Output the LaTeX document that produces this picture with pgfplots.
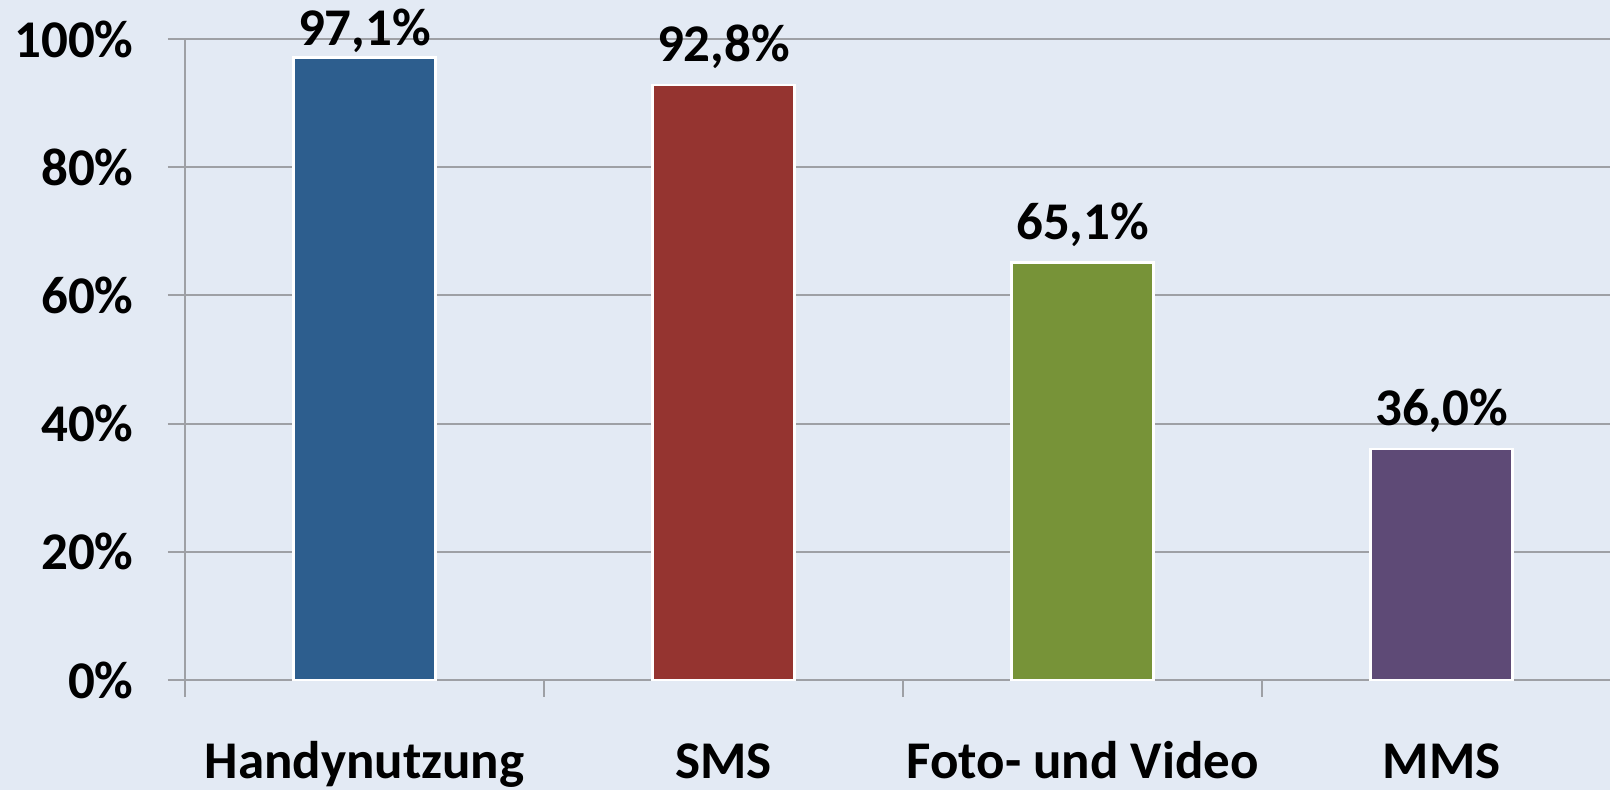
\documentclass[border=0pt]{standalone}
\usepackage{pgfplots}
\pgfplotsset{compat=1.18}
\usepackage{fontspec}
\setmainfont{Carlito}
\definecolor{bg}{RGB}{227,234,244}
\definecolor{gridgray}{RGB}{158,160,165}
\definecolor{cblue}{RGB}{45,94,142}
\definecolor{cred}{RGB}{149,52,48}
\definecolor{cgreen}{RGB}{119,147,56}
\definecolor{cpurple}{RGB}{94,74,118}
\newcommand{\lblfont}{\fontsize{26.5}{30}\selectfont\bfseries}
\begin{document}
\begin{tikzpicture}
\fill[bg] (0,0) rectangle (805pt,395pt);
\begin{axis}[
  at={(92.5pt,55pt)}, anchor=south west,
  scale only axis, width=712.5pt, height=320.5pt,
  xmin=-0.5, xmax=3.469, ymin=0, ymax=100,
  axis x line=bottom, axis y line=left,
  axis line style={-, gridgray, line width=1pt},
  ytick={0,20,40,60,80,100},
  ymajorgrids, grid style={gridgray, line width=1pt},
  yticklabel={\pgfmathprintnumber{\tick}\%},
  yticklabel style={anchor=east, inner sep=0pt, xshift=-17pt},
  xtick={-0.5,0.5,1.5,2.5}, xticklabels={},
  extra x ticks={0,1,2,3},
  extra x tick labels={Handynutzung,SMS,Foto- und Video,MMS},
  extra x tick style={major tick length=0pt, xticklabel style={anchor=base, inner sep=0pt, yshift=-49.5pt}},
  tick align=outside, major tick length=8.5pt,
  tick style={gridgray, line width=1pt},
  ticklabel style={font=\lblfont, black},
  /pgf/number format/assume math mode=true,
  ybar, bar width=71pt, bar shift=0pt,
  nodes near coords={\pgfmathprintnumber[fixed,fixed zerofill,precision=1,use comma]{\pgfplotspointmeta}\%},
  every node near coord/.append style={font=\lblfont, black, inner sep=2pt, yshift=5.5pt},
  clip=false,
]
\addplot[fill=cblue, draw=white, line width=1.2pt, every node near coord/.append style={yshift=-5.5pt}] coordinates {(0,97.1)};
\addplot[fill=cred, draw=white, line width=1.2pt] coordinates {(1,92.8)};
\addplot[fill=cgreen, draw=white, line width=1.2pt] coordinates {(2,65.1)};
\addplot[fill=cpurple, draw=white, line width=1.2pt] coordinates {(3,36.0)};
\end{axis}
\pgfresetboundingbox
\path[use as bounding box] (0,0) rectangle (805pt,395pt);
\end{tikzpicture}
\end{document}
